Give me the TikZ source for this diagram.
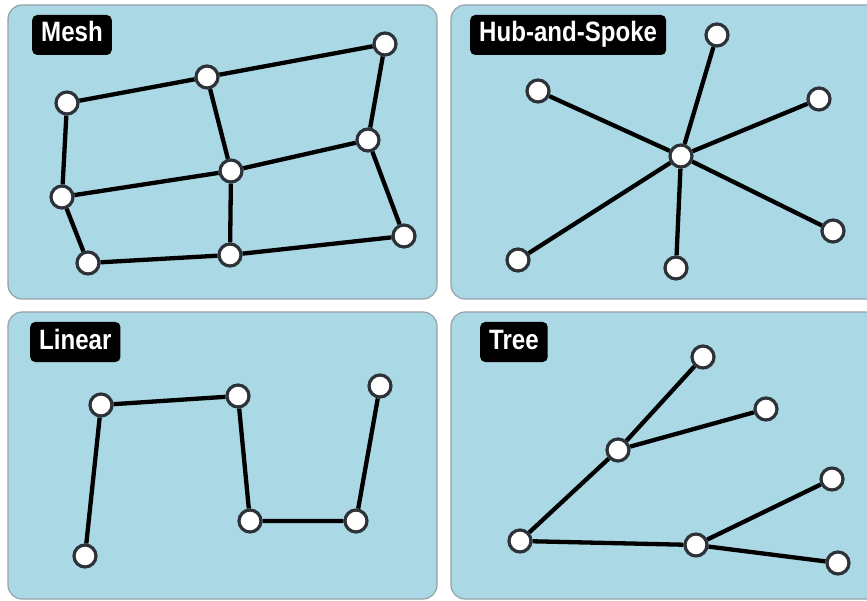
\documentclass[tikz,border=0pt]{standalone}
\usepackage{fontspec}
\usepackage{tikz}
\usetikzlibrary{positioning}

\newfontfamily\tagfont{Liberation Sans}[FakeStretch=0.86]
\definecolor{panelblue}{RGB}{170,216,229}
\definecolor{paneledge}{RGB}{150,162,168}
\definecolor{nodering}{RGB}{45,50,56}

\begin{document}
\begin{tikzpicture}[
    x=1pt, y=-1pt,
    panel/.style={draw=paneledge, line width=1.2pt, fill=panelblue, rounded corners=14pt},
    tag/.style={fill=black, text=white, rounded corners=5pt, inner xsep=9pt,
                minimum height=40pt, text height=20pt, text depth=6pt, anchor=west,
                font=\tagfont\bfseries\fontsize{28}{28}\selectfont},
    vertex/.style={circle, draw=nodering, line width=3.2pt, fill=white,
                   minimum size=22pt, inner sep=0pt},
    link/.style={line width=4.3pt, black}
]
\useasboundingbox (0,0) rectangle (867,601);
\clip (0,0) rectangle (867,601);

% the four panels
\draw[panel] (8,5) rectangle (437,299);
\draw[panel] (451,5) rectangle (890,299);
\draw[panel] (8,312) rectangle (437,599);
\draw[panel] (451,312) rectangle (890,599);

\node[tag] (meshtag) at (32,35) {Mesh};
\node[tag] (hubtag) at (470,35) {Hub-and-Spoke};
\node[tag] (lintag) at (30,342) {Linear};
\node[tag] (treetag) at (480,342) {Tree};

% mesh
\node[vertex] (m1) at (67,103) {};
\node[vertex] (m2) at (207,77) {};
\node[vertex] (m3) at (385,44) {};
\node[vertex] (m4) at (62,197) {};
\node[vertex] (m5) at (231,171) {};
\node[vertex] (m6) at (368,140) {};
\node[vertex] (m7) at (88,263) {};
\node[vertex] (m8) at (230,255) {};
\node[vertex] (m9) at (404,236) {};
\draw[link] (m1) -- (m2) -- (m3);
\draw[link] (m4) -- (m5) -- (m6);
\draw[link] (m7) -- (m8) -- (m9);
\draw[link] (m1) -- (m4) -- (m7);
\draw[link] (m2) -- (m5) -- (m8);
\draw[link] (m3) -- (m6) -- (m9);

% hub and spoke
\node[vertex] (h0) at (681,156) {};
\node[vertex] (h1) at (538,91) {};
\node[vertex] (h2) at (717,35) {};
\node[vertex] (h3) at (819,99) {};
\node[vertex] (h4) at (833,231) {};
\node[vertex] (h5) at (676,268) {};
\node[vertex] (h6) at (518,260) {};
\foreach \i in {1,...,6}
  \draw[link] (h0) -- (h\i);

% linear
\node[vertex] (l1) at (85,556) {};
\node[vertex] (l2) at (101,405) {};
\node[vertex] (l3) at (238,396) {};
\node[vertex] (l4) at (250,521) {};
\node[vertex] (l5) at (356,521) {};
\node[vertex] (l6) at (380,386) {};
\draw[link] (l1) -- (l2) -- (l3) -- (l4) -- (l5) -- (l6);

% tree
\node[vertex] (t1) at (520,541) {};
\node[vertex] (t2) at (618,450) {};
\node[vertex] (t3) at (703,357) {};
\node[vertex] (t4) at (766,409) {};
\node[vertex] (t5) at (696,545) {};
\node[vertex] (t6) at (832,479) {};
\node[vertex] (t7) at (838,563) {};
\draw[link] (t1) -- (t2);
\draw[link] (t2) -- (t3);
\draw[link] (t2) -- (t4);
\draw[link] (t1) -- (t5);
\draw[link] (t5) -- (t6);
\draw[link] (t5) -- (t7);
\end{tikzpicture}
\end{document}
